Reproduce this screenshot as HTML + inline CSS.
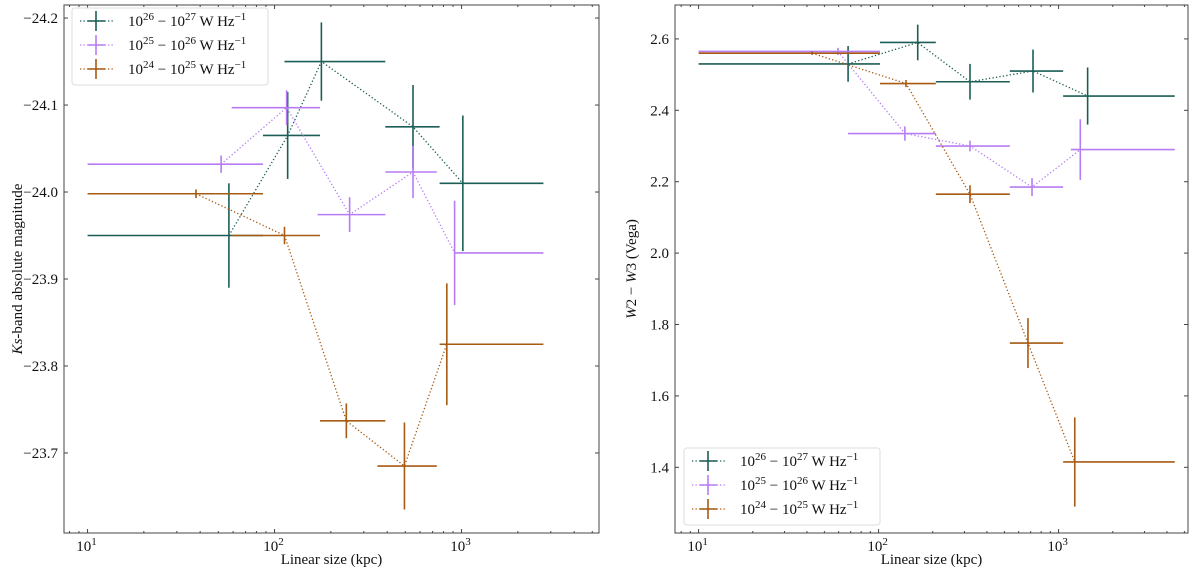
<!DOCTYPE html>
<html><head><meta charset="utf-8"><style>
html,body{margin:0;padding:0;background:#fff;width:1200px;height:568px;overflow:hidden}
svg text{font-family:"Liberation Serif","DejaVu Serif",serif;fill:#111}
</style></head><body>
<svg id="chart" width="1200" height="568" xmlns="http://www.w3.org/2000/svg"></svg>
<script>
// ---- Left panel (Ks-band) data ----
const ksTealX=[57,117.5,178,550,1016];
const ksTealXlo=[10,86.7,113,391,763];
const ksTealXhi=[86.7,175,391,763,2740];
const ksTealY=[-23.95,-24.065,-24.15,-24.075,-24.01];
const ksTealYerr=[0.06,0.05,0.045,0.048,0.078];
const ksPurpX=[51.8,116,252,550,918];
const ksPurpXlo=[10,59,170,391,918];
const ksPurpXhi=[86.7,175,391,737,2740];
const ksPurpY=[-24.032,-24.097,-23.974,-24.023,-23.93];
const ksPurpYerr=[0.01,0.02,0.02,0.03,0.06];
const ksBrownX=[38,113,242,495,834];
const ksBrownXlo=[10,59,175,355,763];
const ksBrownXhi=[86.7,175,391,737,2740];
const ksBrownY=[-23.998,-23.95,-23.737,-23.685,-23.825];
const ksBrownYerr=[0.005,0.01,0.02,0.05,0.07];
// ---- Right panel (W2-W3) data ----
const wTealX=[67.7,165,322,721,1450];
const wTealXlo=[10,101.8,208,536,1060];
const wTealXhi=[101.8,208,536,1060,4420];
const wTealY=[2.53,2.59,2.48,2.51,2.44];
const wTealYerr=[0.05,0.05,0.05,0.06,0.08];
const wPurpX=[59.5,140,322,712,1320];
const wPurpXlo=[10,67.7,208,536,1170];
const wPurpXhi=[101.8,208,536,1060,4420];
const wPurpY=[2.565,2.335,2.30,2.185,2.29];
const wPurpYerr=[0.01,0.02,0.015,0.025,0.085];
const wBrownX=[42.7,142,322,676,1230];
const wBrownXlo=[10,101.8,208,536,1060];
const wBrownXhi=[101.8,208,536,1060,4420];
const wBrownY=[2.56,2.475,2.165,1.748,1.415];
const wBrownYerr=[0.005,0.01,0.025,0.07,0.125];
const ksTicks=[-24.2,-24.1,-24.0,-23.9,-23.8,-23.7];
const ksTickLabels=["\u221224.2","\u221224.1","\u221224.0","\u221223.9","\u221223.8","\u221223.7"];
const wTicks=[2.6,2.4,2.2,2.0,1.8,1.6,1.4];
const wTickLabels=["2.6","2.4","2.2","2.0","1.8","1.6","1.4"];
const decades=[1,2,3];
const legendExps=[[26,27],[25,26],[24,25]];

const NS="http://www.w3.org/2000/svg";
const svg=document.getElementById('chart');
const COLORS=["#1b5e56","#b77cf4","#a65a12"];
function mk(tag,attrs,parent){const e=document.createElementNS(NS,tag);for(const k in attrs)e.setAttribute(k,attrs[k]);(parent||svg).appendChild(e);return e;}

function panel(cfg){
  const g=mk('g',{});
  
  
  const {x0,x1,y0,y1}=cfg;
  const xs=v=>x0+(Math.log10(v)-cfg.lmin)/(cfg.lmax-cfg.lmin)*(x1-x0);
  const ys=v=>y0+(v-cfg.vtop)/(cfg.vbot-cfg.vtop)*(y1-y0);
  cfg.series.forEach((s,si)=>{
    const sg=mk('g',{},g);
    
    
    const pts=s.x.map((v,i)=>xs(v).toFixed(1)+','+ys(s.y[i]).toFixed(1)).join(' ');
    const pl=mk('polyline',{points:pts,fill:'none',stroke:COLORS[si],'stroke-width':1.3,'stroke-dasharray':'1.3,2.2'},sg);
    
    
    s.x.forEach((v,i)=>{
      const h=mk('line',{x1:xs(s.xlo[i]),x2:xs(s.xhi[i]),y1:ys(s.y[i]),y2:ys(s.y[i]),stroke:COLORS[si],'stroke-width':1.6},sg);
      
      
      const vl=mk('line',{x1:xs(v),x2:xs(v),y1:ys(s.y[i]-s.yerr[i]),y2:ys(s.y[i]+s.yerr[i]),stroke:COLORS[si],'stroke-width':1.6},sg);
      
      
    });
  });
  const fr=mk('rect',{x:x0,y:y0,width:x1-x0,height:y1-y0,fill:'none',stroke:'#444','stroke-width':1},g);
  
  
  cfg.ticks.forEach((t,i)=>{
    const y=ys(t);
    mk('line',{x1:x0,x2:x0+4,y1:y,y2:y,stroke:'#444'},g);
    mk('line',{x1:x1,x2:x1-4,y1:y,y2:y,stroke:'#444'},g);
    const tx=mk('text',{x:x0-6,y:y+5,'text-anchor':'end','font-size':15},g);
    tx.textContent=cfg.tickLabels[i];
    
    
  });
  for(let d=0;d<=4;d++){
    for(let m=1;m<10;m++){
      const v=Math.pow(10,d)*m; const l=Math.log10(v);
      if(l<cfg.lmin||l>cfg.lmax)continue;
      const x=xs(v); const len=m===1?4:2;
      mk('line',{x1:x,x2:x,y1:y1,y2:y1-len,stroke:'#444'},g);
      mk('line',{x1:x,x2:x,y1:y0,y2:y0+len,stroke:'#444'},g);
    }
  }
  decades.forEach(d=>{
    const t=mk('text',{x:xs(Math.pow(10,d))-1,y:y1+18,'text-anchor':'middle','font-size':15},g);
    
    
    t.appendChild(document.createTextNode('10'));
    const sp=mk('tspan',{dy:-6,'font-size':11},t);sp.textContent=String(d);
  });
  const xl=mk('text',{x:(x0+x1)/2,y:y1+31,'text-anchor':'middle','font-size':15},g);
  xl.textContent='Linear size (kpc)';
  
  
  const yl=mk('text',{x:0,y:0,'text-anchor':'middle','font-size':15,transform:`translate(${cfg.ylx},${(y0+y1)/2}) rotate(-90)`},g);
  
  
  cfg.ytitle(yl);
  const L=cfg.legend;
  const lg=mk('g',{},g);
  
  
  mk('rect',{x:L.x,y:L.y,width:196,height:77,rx:3,fill:'#fff','fill-opacity':0.85,stroke:'#ddd'},lg);
  legendExps.forEach((e,i)=>{
    const cy=L.y+13+i*24;
    const eg=mk('g',{},lg);
    
    
    mk('line',{x1:L.x+8,x2:L.x+41,y1:cy,y2:cy,stroke:COLORS[i],'stroke-width':1.3,'stroke-dasharray':'1.3,2.2'},eg);
    mk('line',{x1:L.x+16,x2:L.x+33,y1:cy,y2:cy,stroke:COLORS[i],'stroke-width':1.6},eg);
    mk('line',{x1:L.x+24,x2:L.x+24,y1:cy-10,y2:cy+10,stroke:COLORS[i],'stroke-width':1.6},eg);
    const t=mk('text',{x:L.x+56,y:cy+5,'font-size':15},eg);
    t.appendChild(document.createTextNode('10'));
    let s=mk('tspan',{dy:-6,'font-size':11},t);s.textContent=String(e[0]);
    s=mk('tspan',{dy:6},t);s.textContent=' \u2212 10';
    s=mk('tspan',{dy:-6,'font-size':11},t);s.textContent=String(e[1]);
    s=mk('tspan',{dy:6},t);s.textContent=' W Hz';
    s=mk('tspan',{dy:-6,'font-size':11},t);s.textContent='\u22121';
  });
}

panel({name:'ks-panel',x0:64,x1:599,y0:5,y1:533,lmin:0.874,lmax:3.735,vtop:-24.215,vbot:-23.608,
  ticks:ksTicks,tickLabels:ksTickLabels,ylx:22,legend:{x:72,y:8},
  ytitle:t=>{let s=mk('tspan',{'font-style':'italic'},t);s.textContent='Ks';s=mk('tspan',{},t);s.textContent='-band absolute magnitude';},
  series:[
   {id:'1e26-1e27',x:ksTealX,xlo:ksTealXlo,xhi:ksTealXhi,y:ksTealY,yerr:ksTealYerr},
   {id:'1e25-1e26',x:ksPurpX,xlo:ksPurpXlo,xhi:ksPurpXhi,y:ksPurpY,yerr:ksPurpYerr},
   {id:'1e24-1e25',x:ksBrownX,xlo:ksBrownXlo,xhi:ksBrownXhi,y:ksBrownY,yerr:ksBrownYerr}]});
panel({name:'w2w3-panel',x0:675,x1:1188,y0:5,y1:533,lmin:0.869,lmax:3.719,vtop:2.695,vbot:1.216,
  ticks:wTicks,tickLabels:wTickLabels,ylx:636,legend:{x:684,y:448},
  ytitle:t=>{let s=mk('tspan',{'font-style':'italic'},t);s.textContent='W';s=mk('tspan',{},t);s.textContent='2 \u2212 ';s=mk('tspan',{'font-style':'italic'},t);s.textContent='W';s=mk('tspan',{},t);s.textContent='3 (Vega)';},
  series:[
   {id:'1e26-1e27',x:wTealX,xlo:wTealXlo,xhi:wTealXhi,y:wTealY,yerr:wTealYerr},
   {id:'1e25-1e26',x:wPurpX,xlo:wPurpXlo,xhi:wPurpXhi,y:wPurpY,yerr:wPurpYerr},
   {id:'1e24-1e25',x:wBrownX,xlo:wBrownXlo,xhi:wBrownXhi,y:wBrownY,yerr:wBrownYerr}]});
</script>
</body></html>
